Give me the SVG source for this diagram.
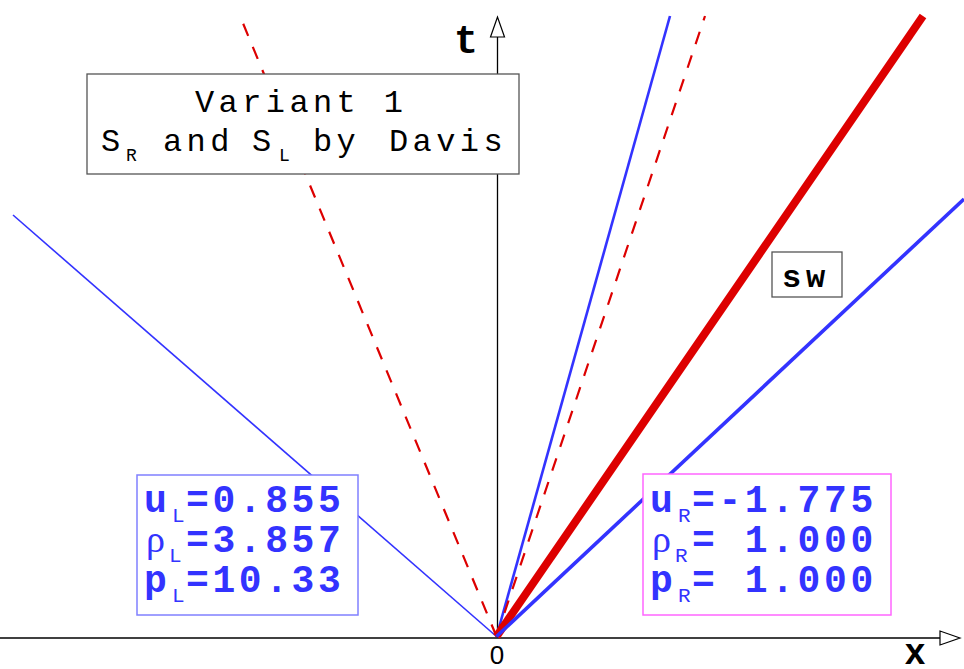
<svg xmlns="http://www.w3.org/2000/svg" width="964" height="669" viewBox="0 0 964 669">
<style>
.axis{stroke:#000;stroke-width:1.3;fill:none}
.ah{fill:#fff;stroke:#000;stroke-width:1.2}
.blue{stroke:#3333ff;fill:none}
.red{stroke:#dd0000;fill:none}
.dash{stroke-dasharray:13 12}
.mono{font-family:"Liberation Mono","DejaVu Sans Mono",monospace}
.ttl{font-size:32px;letter-spacing:4.4px;fill:#000}
.tsub{font-size:18px;fill:#000}
.val{font-size:38px;font-weight:bold;letter-spacing:3.6px;fill:#3333ff}
.vsub{font-size:21px;fill:#3333ff}
.rho{font-family:"Liberation Serif","DejaVu Serif",serif;font-size:38px;fill:#3333ff}
.lab{font-weight:bold;fill:#000}
</style>
<rect width="964" height="669" fill="#fff"/>
<g id="axes">
<line class="axis" x1="0" y1="638" x2="940" y2="638"/>
<polygon class="ah" points="960,638 940,631 940,645"/>
<line class="axis" x1="497.5" y1="37" x2="497.5" y2="638"/>
<polygon class="ah" points="497.5,17 490.5,37 504.5,37"/>
<text class="mono lab" x="466" y="53" font-size="40" text-anchor="middle">t</text>
<text class="mono lab" x="915" y="664" font-size="36" text-anchor="middle">x</text>
<text x="497" y="664" font-family="Liberation Sans,Arial,sans-serif" font-size="26" text-anchor="middle" fill="#000">0</text>
</g>
<g id="connectors">
<line class="blue" x1="496.5" y1="636.5" x2="13" y2="215" stroke-width="1.6"/>
<line class="red dash" x1="496.5" y1="636.5" x2="240" y2="16" stroke-width="2.2"/>
<line class="blue" x1="496.5" y1="636.5" x2="670" y2="16" stroke-width="2.6"/>
<line class="red dash" x1="496.5" y1="636.5" x2="705" y2="16" stroke-width="2.2"/>
<line class="red" x1="496.5" y1="636.5" x2="923" y2="16" stroke-width="8"/>
<line class="blue" x1="496.5" y1="636.5" x2="964" y2="199" stroke-width="3.6"/>
</g>
<g id="title">
<rect x="87" y="74" width="432" height="100" fill="#fff" stroke="#555" stroke-width="1.3"/>
<text class="mono ttl" x="195" y="112">Variant 1</text>
<text class="mono ttl" x="101" y="151">S</text>
<text class="mono tsub" x="126" y="161">R</text>
<text class="mono ttl" x="163" y="151">and</text>
<text class="mono ttl" x="252" y="151">S</text>
<text class="mono tsub" x="279" y="161">L</text>
<text class="mono ttl" x="313" y="151">by</text>
<text class="mono ttl" x="389" y="151">Davis</text>
</g>
<g id="sw">
<rect x="772" y="252" width="70" height="45" fill="#fff" stroke="#555" stroke-width="1.3"/>
<text class="mono lab" x="782" y="287" font-size="32" letter-spacing="4.8">sw</text>
</g>
<g id="left-state">
<rect x="137" y="475" width="221" height="140" fill="#fff" stroke="#8080ff" stroke-width="1.5"/>
<text class="mono val" x="144" y="512">u</text>
<text class="mono vsub" x="172" y="522">L</text>
<text class="mono val" x="186" y="512">=0.855</text>
<text class="rho" x="146" y="552">ρ</text>
<text class="mono vsub" x="169" y="562">L</text>
<text class="mono val" x="186" y="552">=3.857</text>
<text class="mono val" x="144" y="592">p</text>
<text class="mono vsub" x="172" y="602">L</text>
<text class="mono val" x="186" y="592">=10.33</text>
</g>
<g id="right-state">
<rect x="643" y="474" width="248" height="141" fill="#fff" stroke="#ff66ff" stroke-width="1.5"/>
<text class="mono val" x="650" y="512">u</text>
<text class="mono vsub" x="678" y="522">R</text>
<text class="mono val" x="692" y="512">=-1.775</text>
<text class="rho" x="652" y="552">ρ</text>
<text class="mono vsub" x="675" y="562">R</text>
<text class="mono val" x="692" y="552">= 1.000</text>
<text class="mono val" x="650" y="592">p</text>
<text class="mono vsub" x="678" y="602">R</text>
<text class="mono val" x="692" y="592">= 1.000</text>
</g>
</svg>
